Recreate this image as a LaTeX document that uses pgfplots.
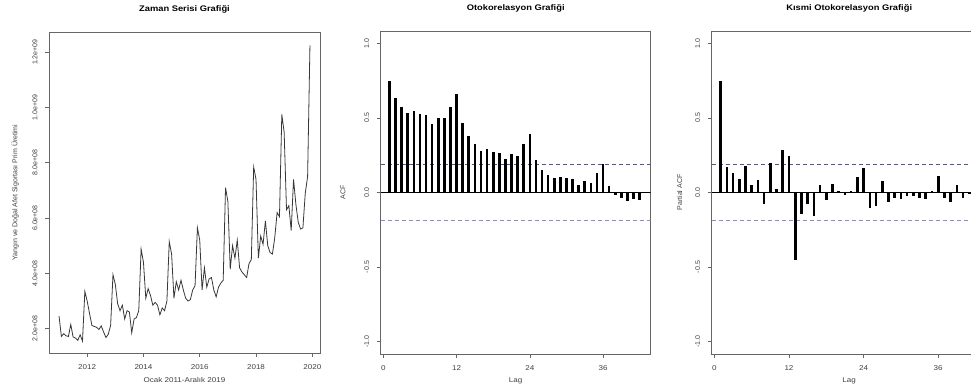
\documentclass[border=0pt]{standalone}
\usepackage{fontspec}
\setmainfont{Liberation Sans}[FakeStretch=1.15]
\newfontfamily\rotfont{Liberation Sans}
\usepackage{pgfplots}
\usepackage{pgfplotstable}
\pgfplotsset{compat=1.18}
\definecolor{ciTop}{RGB}{85,85,145}
\definecolor{ciBot}{RGB}{140,140,210}
\definecolor{lineC}{RGB}{55,55,55}

\pgfplotstableread{
t v
2011.0000 2.45e8
2011.0833 1.72e8
2011.1667 1.82e8
2011.2500 1.74e8
2011.3333 1.72e8
2011.4167 2.15e8
2011.5000 1.70e8
2011.5833 1.66e8
2011.6667 1.58e8
2011.7500 1.78e8
2011.8333 1.55e8
2011.9167 3.35e8
2012.0000 3.00e8
2012.0833 2.55e8
2012.1667 2.12e8
2012.2500 2.08e8
2012.3333 2.05e8
2012.4167 1.97e8
2012.5000 2.10e8
2012.5833 1.88e8
2012.6667 1.68e8
2012.7500 1.80e8
2012.8333 2.12e8
2012.9167 3.95e8
2013.0000 3.60e8
2013.0833 2.90e8
2013.1667 2.65e8
2013.2500 2.85e8
2013.3333 2.35e8
2013.4167 2.65e8
2013.5000 2.60e8
2013.5833 1.85e8
2013.6667 2.35e8
2013.7500 2.40e8
2013.8333 2.65e8
2013.9167 4.88e8
2014.0000 4.40e8
2014.0833 3.10e8
2014.1667 3.45e8
2014.2500 3.20e8
2014.3333 2.85e8
2014.4167 2.95e8
2014.5000 2.85e8
2014.5833 2.50e8
2014.6667 2.75e8
2014.7500 2.65e8
2014.8333 3.00e8
2014.9167 5.15e8
2015.0000 4.70e8
2015.0833 3.10e8
2015.1667 3.70e8
2015.2500 3.40e8
2015.3333 3.75e8
2015.4167 3.40e8
2015.5000 3.10e8
2015.5833 3.00e8
2015.6667 3.05e8
2015.7500 3.40e8
2015.8333 3.55e8
2015.9167 5.65e8
2016.0000 5.20e8
2016.0833 3.40e8
2016.1667 4.20e8
2016.2500 3.50e8
2016.3333 3.80e8
2016.4167 3.85e8
2016.5000 3.40e8
2016.5833 3.15e8
2016.6667 3.50e8
2016.7500 3.65e8
2016.8333 3.75e8
2016.9167 7.10e8
2017.0000 6.60e8
2017.0833 4.15e8
2017.1667 5.00e8
2017.2500 4.55e8
2017.3333 5.20e8
2017.4167 4.20e8
2017.5000 4.05e8
2017.5833 3.95e8
2017.6667 3.85e8
2017.7500 4.35e8
2017.8333 4.50e8
2017.9167 7.85e8
2018.0000 7.40e8
2018.0833 4.55e8
2018.1667 5.35e8
2018.2500 5.05e8
2018.3333 5.90e8
2018.4167 5.00e8
2018.5000 4.75e8
2018.5833 4.70e8
2018.6667 5.30e8
2018.7500 6.20e8
2018.8333 6.05e8
2018.9167 9.75e8
2019.0000 9.10e8
2019.0833 6.30e8
2019.1667 6.45e8
2019.2500 5.55e8
2019.3333 7.40e8
2019.4167 6.50e8
2019.5000 5.85e8
2019.5833 5.60e8
2019.6667 5.65e8
2019.7500 6.90e8
2019.8333 7.50e8
2019.9167 12.25e8
}\tsdata

\pgfplotstableread{
lag acf
1 0.750
2 0.635
3 0.575
4 0.535
5 0.546
6 0.526
7 0.521
8 0.459
9 0.497
10 0.497
11 0.575
12 0.662
13 0.463
14 0.376
15 0.322
16 0.275
17 0.289
18 0.271
19 0.266
20 0.224
21 0.255
22 0.248
23 0.322
24 0.389
25 0.217
26 0.148
27 0.119
28 0.094
29 0.105
30 0.094
31 0.089
32 0.051
33 0.076
34 0.067
35 0.132
36 0.190
37 0.045
38 -0.018
39 -0.034
40 -0.056
41 -0.043
42 -0.051
}\acfdata

\pgfplotstableread{
lag pacf
1 0.750
2 0.172
3 0.134
4 0.089
5 0.179
6 0.049
7 0.087
8 -0.074
9 0.201
10 0.025
11 0.282
12 0.242
13 -0.454
14 -0.145
15 -0.074
16 -0.159
17 0.047
18 -0.047
19 0.056
20 0.013
21 -0.018
22 0.013
23 0.101
24 0.161
25 -0.107
26 -0.092
27 0.076
28 -0.063
29 -0.034
30 -0.045
31 -0.025
32 -0.022
33 -0.040
34 -0.045
35 0.009
36 0.110
37 -0.034
38 -0.063
39 0.047
40 -0.036
41 -0.010
42 -0.020
}\pacfdata

\pgfplotsset{
  rstyle/.style={
    scale only axis,
    axis line style={black!60, line width=0.6pt},
    tick style={black!60, line width=0.6pt},
    tick align=outside,
    major tick length=4pt,
    xtick pos=bottom,
    ytick pos=left,
    scaled x ticks=false,
    scaled y ticks=false,
    /pgf/number format/assume math mode=true,
    xticklabel style={font=\fontsize{7}{8}\selectfont, text=black!75, anchor=center, yshift=-10pt},
    yticklabel style={font=\rotfont\fontsize{7}{8}\selectfont, text=black!75, rotate=90, anchor=center, yshift=10pt},
    xlabel style={font=\fontsize{7}{8}\selectfont, text=black!75, at={(axis description cs:0.5,0)}, anchor=center, yshift=-27pt},
    ylabel style={font=\rotfont\fontsize{7}{8}\selectfont, text=black!75, anchor=center, rotate=0},
    title style={font=\bfseries\fontsize{8.1}{10}\selectfont, at={(axis description cs:0.5,1)}, anchor=center, yshift=17pt},
  },
}

\begin{document}
\begin{tikzpicture}
% Panel 1: time series
\begin{axis}[rstyle,
  at={(49pt,34pt)}, anchor=south west,
  width=271pt, height=321pt,
  xmin=2010.643, xmax=2020.274,
  ymin=1.12e8, ymax=1.273e9,
  xtick={2012,2014,2016,2018,2020},
  xticklabels={2012,2014,2016,2018,2020},
  ytick={2e8,4e8,6e8,8e8,1e9,1.2e9},
  yticklabels={2.0e+08,4.0e+08,6.0e+08,8.0e+08,1.0e+09,1.2e+09},
  title={Zaman Serisi Grafiği},
  xlabel={Ocak 2011-Aralık 2019},
  ylabel={Yangın ve Doğal Afet Sigortası Prim Üretimi},
  ylabel style={at={(axis description cs:-0.125,0.5)}},
]
\addplot[lineC, line width=0.8pt, mark=none] table[x=t, y=v] {\tsdata};
\end{axis}

% Panel 2: ACF
\begin{axis}[rstyle,
  at={(380.7pt,33pt)}, anchor=south west,
  width=270pt, height=323pt,
  xmin=-0.43, xmax=43.8,
  ymin=-1.083, ymax=1.083,
  xtick={0,12,24,36}, xticklabels={0,12,24,36},
  ytick={-1,-0.5,0,0.5,1},
  yticklabels={-1.0,-0.5,0.0,0.5,1.0},
  title={Otokorelasyon Grafiği},
  xlabel={Lag},
  ylabel={ACF},
  ylabel style={at={(axis description cs:-0.14,0.5)}},
]
\addplot[black, line width=0.6pt, mark=none] coordinates {(-0.43,0) (43.8,0)};
\addplot[ciTop, line width=0.7pt, dash pattern=on 4pt off 3pt, mark=none] coordinates {(-0.43,0.1886) (43.8,0.1886)};
\addplot[ciBot, line width=0.7pt, dash pattern=on 4pt off 3pt, mark=none] coordinates {(-0.43,-0.1886) (43.8,-0.1886)};
\addplot[black, ycomb, line width=2.6pt, mark=none] table[x=lag, y=acf] {\acfdata};
\end{axis}

% Panel 3: PACF
\begin{axis}[rstyle,
  at={(711.7pt,33pt)}, anchor=south west,
  width=275pt, height=323pt,
  xmin=-0.43, xmax=43.8,
  ymin=-1.083, ymax=1.083,
  xtick={0,12,24,36}, xticklabels={0,12,24,36},
  ytick={-1,-0.5,0,0.5,1},
  yticklabels={-1.0,-0.5,0.0,0.5,1.0},
  title={Kısmi Otokorelasyon Grafiği},
  xlabel={Lag},
  ylabel={Partial ACF},
  ylabel style={at={(axis description cs:-0.117,0.5)}},
]
\addplot[black, line width=0.6pt, mark=none] coordinates {(-0.43,0) (43.8,0)};
\addplot[ciTop, line width=0.7pt, dash pattern=on 4pt off 3pt, mark=none] coordinates {(-0.43,0.1886) (43.8,0.1886)};
\addplot[ciBot, line width=0.7pt, dash pattern=on 4pt off 3pt, mark=none] coordinates {(-0.43,-0.1886) (43.8,-0.1886)};
\addplot[black, ycomb, line width=2.6pt, mark=none] table[x=lag, y=pacf] {\pacfdata};
\end{axis}

\pgfresetboundingbox
\useasboundingbox (0,0) rectangle (971pt,387pt);
\end{tikzpicture}
\end{document}
